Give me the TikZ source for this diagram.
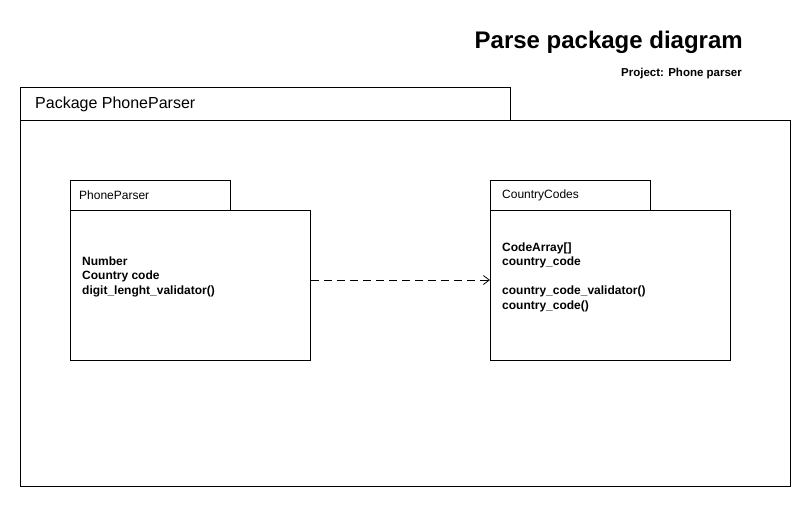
\documentclass[tikz,border=0pt]{standalone}
\usepackage{fontspec}
\setmainfont{Liberation Sans}
\usetikzlibrary{arrows.meta}
\begin{document}
\begin{tikzpicture}[x=1pt,y=-1pt,
  box/.style={draw=black,line width=1pt,fill=white},
  tablabel/.style={anchor=west,inner sep=0pt,font=\fontsize{12}{14}\selectfont},
  body/.style={anchor=north west,inner sep=0pt,align=left,font=\fontsize{12}{14.5}\selectfont\bfseries},
  dep/.style={draw=black,line width=0.8pt,dash pattern=on 8pt off 5pt,-{Straight Barb[length=6pt,width=9pt]}}]
\useasboundingbox[fill=white] (0,0) rectangle (811,507);
% title
\node[anchor=base east,inner sep=0pt,font=\fontsize{24}{28}\selectfont\bfseries] (title) at (743,48) {Parse package diagram};
\node[anchor=base east,inner sep=0pt,font=\fontsize{11.5}{13}\selectfont\bfseries] (proj) at (742,76) {Project: Phone parser};
% outer package
\draw[box] (20,87) rectangle (510,120);
\draw[box] (20,120) rectangle (790,486);
\node[anchor=west,inner sep=0pt,font=\fontsize{16}{19}\selectfont] (pkg) at (35,104) {Package PhoneParser};
% left package
\draw[box] (70,180) rectangle (230,210);
\node[box,minimum width=240pt,minimum height=150pt,anchor=north west,inner sep=0pt] (pp) at (70,210) {};
\node[tablabel] (ppl) at (79,195) {PhoneParser};
\node[body] (ppt) at (82,256.5) {Number\\Country code\\digit\_lenght\_validator()};
% right package
\draw[box] (490,180) rectangle (650,210);
\node[box,minimum width=240pt,minimum height=150pt,anchor=north west,inner sep=0pt] (cc) at (490,210) {};
\node[tablabel] (ccl) at (502,195) {CountryCodes};
\node[body] (cct) at (502,242.5) {CodeArray[]\\country\_code\\[14.5pt]country\_code\_validator()\\country\_code()};
% dependency
\draw[dep] (pp.east |- 0,280) -- (cc.west |- 0,280);
\end{tikzpicture}
\end{document}
